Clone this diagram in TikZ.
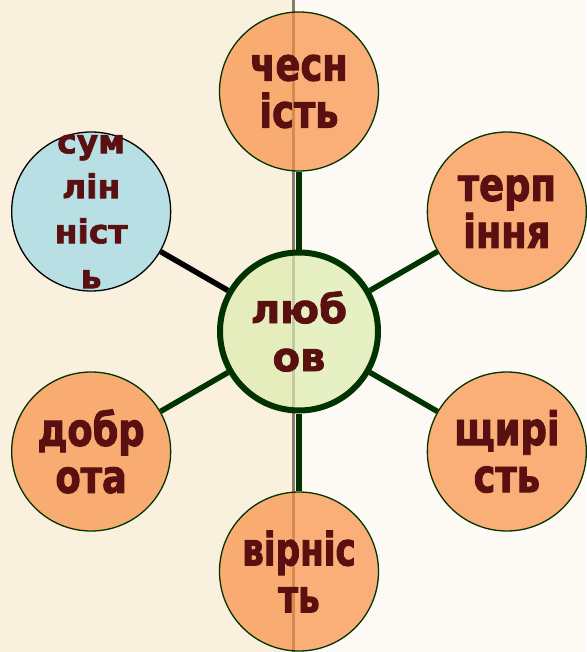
\documentclass[tikz,border=0pt]{standalone}
\usepackage{fontspec}
\newfontfamily\wordfont[FakeStretch=0.8, BoldFeatures={FakeBold=2}]{DejaVu Sans}
\newfontfamily\hubfont[BoldFeatures={FakeBold=2}]{DejaVu Sans}
\usetikzlibrary{backgrounds}

\definecolor{bgleft}{RGB}{249,240,222}
\definecolor{bgright}{RGB}{253,250,245}
\definecolor{stripe}{RGB}{135,124,108}
\definecolor{edgegreen}{RGB}{0,51,0}
\definecolor{wordred}{RGB}{90,16,16}
\definecolor{orangefill}{RGB}{250,144,69}
\definecolor{greenfill}{RGB}{223,236,175}
\definecolor{bluefill}{RGB}{156,217,231}

\tikzset{
  virtue/.style={circle, draw=edgegreen, line width=1.3pt, fill=orangefill,
    fill opacity=0.7, minimum size=159pt, inner sep=0pt},
  hub/.style={circle, draw=edgegreen, line width=6pt, fill=greenfill,
    fill opacity=0.7, minimum size=158pt, inner sep=0pt},
  word/.style={align=center, text=wordred,
    font=\wordfont\bfseries\fontsize{46}{47}\selectfont},
  hubword/.style={align=center, text=wordred,
    font=\hubfont\bfseries\fontsize{40}{48}\selectfont},
  smallword/.style={align=center, text=wordred,
    font=\hubfont\bfseries\fontsize{33}{45}\selectfont},
  spoke/.style={line width=5.5pt, draw=edgegreen}
}

\begin{document}
\begin{tikzpicture}[x=1pt,y=1pt]
  \useasboundingbox (0,0) rectangle (586,-652);

  \node[hub, label={[hubword]center:{люб\\ов}}] (liubov) at (299,-331.5) {};
  \node[virtue, label={[word]center:{чесн\\ість}}] (chesnist) at ([shift={(90:240pt)}]liubov) {};
  \node[virtue, label={[word]center:{терп\\іння}}] (terpinnia) at ([shift={(30:240pt)}]liubov) {};
  \node[virtue, label={[word]center:{щирі\\сть}}] (shchyrist) at ([shift={(-30:240pt)}]liubov) {};
  \node[virtue, label={[word, xscale=0.93]center:{вірніс\\ть}}] (virnist) at ([shift={(-90:240pt)}]liubov) {};
  \node[virtue, label={[word]center:{добр\\ота}}] (dobrota) at ([shift={(210:240pt)}]liubov) {};
  \node[virtue, draw=black, fill=bluefill,
    label={[smallword]center:{сум\\лін\\ніст\\ь}}] (sumlinnist) at ([shift={(150:240pt)}]liubov) {};

  \begin{scope}[on background layer]
    \fill[bgleft] (0,0) rectangle (293,-652);
    \fill[bgright] (293,0) rectangle (586,-652);
    \draw[stripe, line width=3pt] (293,0) -- (293,-652);

    \draw[spoke] (liubov) -- (chesnist);
    \draw[spoke] (liubov) -- (terpinnia);
    \draw[spoke] (liubov) -- (shchyrist);
    \draw[spoke] (liubov) -- (virnist);
    \draw[spoke] (liubov) -- (dobrota);
    \draw[spoke, draw=black] (liubov) -- (sumlinnist);
  \end{scope}
\end{tikzpicture}
\end{document}
